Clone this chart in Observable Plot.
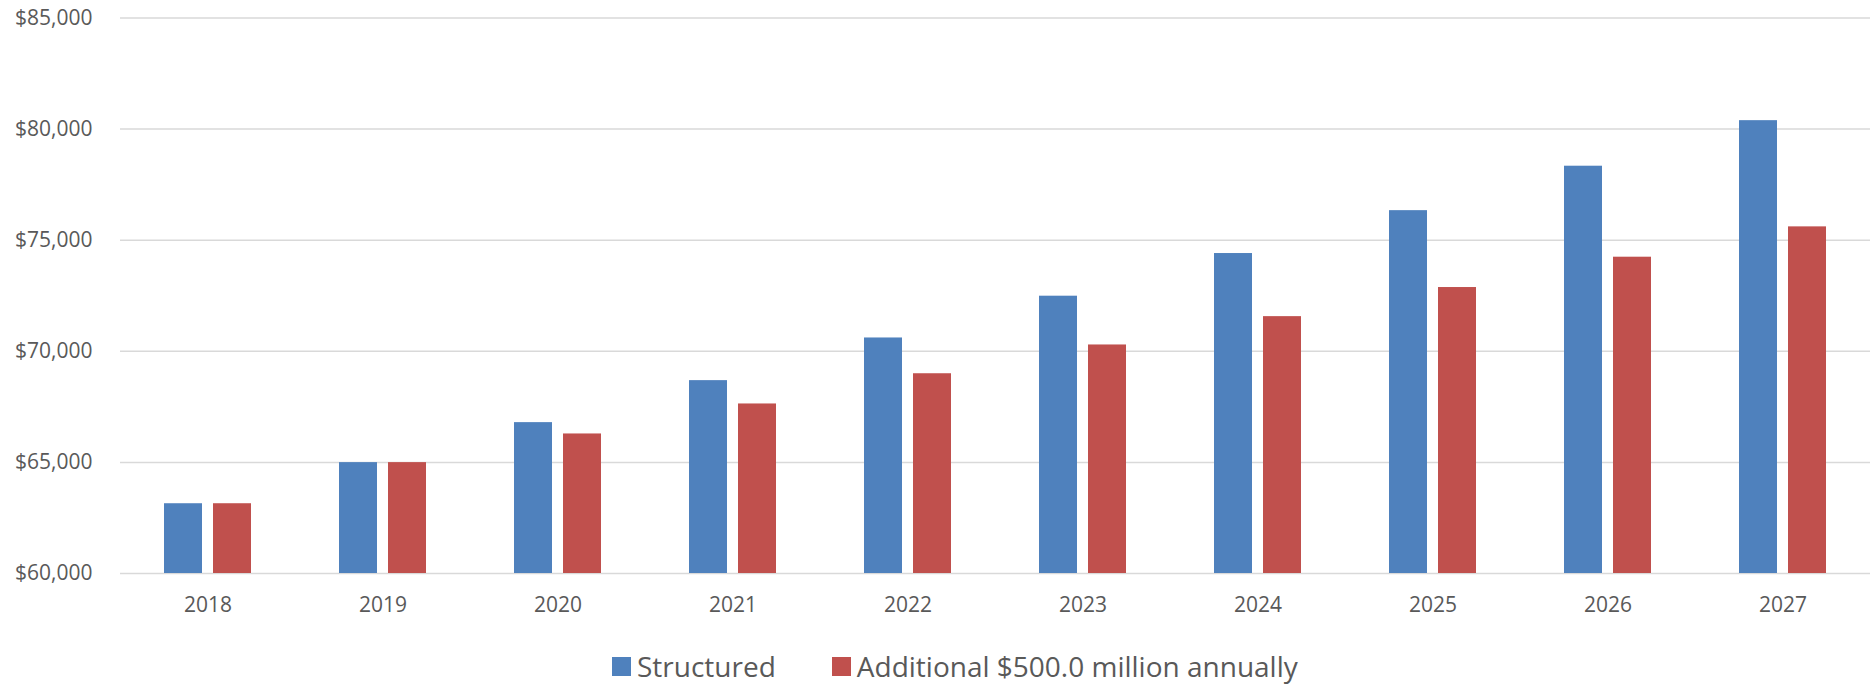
<!DOCTYPE html>
<html><head><meta charset="utf-8">
<script src="https://cdn.jsdelivr.net/npm/d3@7"></script>
<script src="https://cdn.jsdelivr.net/npm/@observablehq/plot@0.6"></script>
<style>
body{margin:0;background:#fff;font-family:"Open Sans",sans-serif;}
#wrap{position:relative;width:1870px;height:684px;overflow:hidden;}
#legend{position:absolute;left:612px;top:651px;display:flex;align-items:center;font-size:28px;color:#595959;line-height:30px;height:30px;white-space:nowrap;}
.item{display:flex;align-items:center;margin-right:56px;}
.sw{display:inline-block;width:19px;height:19px;margin-right:6px;}
</style></head><body><div id="wrap"><div id="chart"></div><div id="legend"></div></div>
<script>
const years = [2018, 2019, 2020, 2021, 2022, 2023, 2024, 2025, 2026, 2027];
const seriesNames = ["Structured", "Additional $500.0 million annually"];
const structured = [63140, 64990, 66790, 68680, 70600, 72480, 74400, 76330, 78330, 80380];
const additional = [63140, 64990, 66280, 67630, 68990, 70285, 71560, 72870, 74235, 75600];
const yTicks = [60000, 65000, 70000, 75000, 80000, 85000];
const colors = ["#4F81BD", "#C0504D"];

const data = years.flatMap((y, i) => [
  {year: String(y), series: seriesNames[0], value: structured[i]},
  {year: String(y), series: seriesNames[1], value: additional[i]}
]);

const chart = Plot.plot({
  width: 1870, height: 630,
  marginTop: 17.5, marginBottom: 57, marginLeft: 120, marginRight: 0,
  style: {fontFamily: "Open Sans", fontSize: "21px", color: "#595959", background: "white"},
  fx: {domain: years.map(String), padding: 0, label: null, tickSize: 0, tickPadding: 24, axis: "bottom"},
  x: {domain: seriesNames, axis: null, paddingInner: 0.215, paddingOuter: 0.868},
  y: {domain: [yTicks[0], yTicks[yTicks.length - 1]], ticks: yTicks, tickFormat: d => "$" + d3.format(",")(d), label: null, tickSize: 0, tickPadding: 28},
  color: {domain: seriesNames, range: colors},
  marks: [
    Plot.ruleY(yTicks, {stroke: "#D9D9D9", strokeWidth: 1.5}),
    Plot.barY(data, {fx: "year", x: "series", y1: () => yTicks[0], y2: "value", fill: "series"})
  ]
});
document.getElementById("chart").appendChild(chart);

const legend = document.getElementById("legend");
seriesNames.forEach((name, i) => {
  const item = document.createElement("div");
  item.className = "item";
  const sw = document.createElement("span");
  sw.className = "sw";
  sw.style.background = colors[i];
  item.appendChild(sw);
  item.appendChild(document.createTextNode(name));
  legend.appendChild(item);
});
</script>
</body></html>
